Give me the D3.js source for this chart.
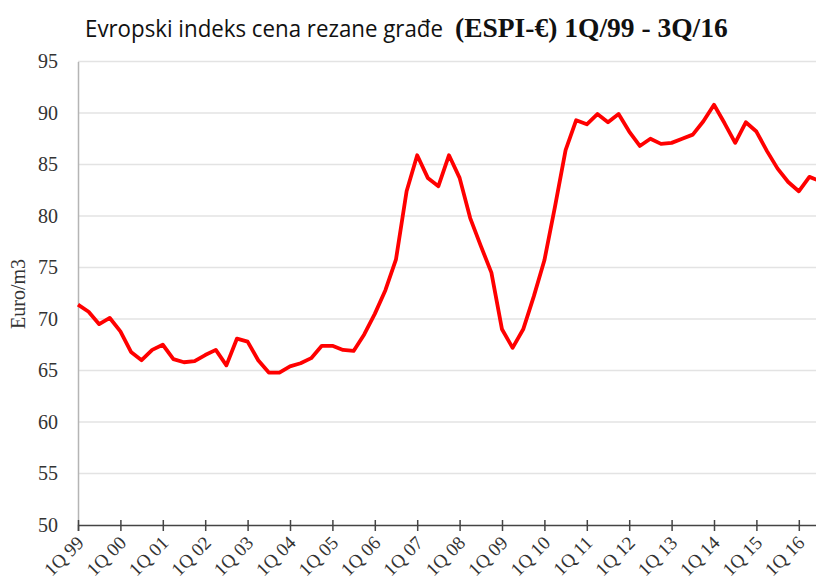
<!DOCTYPE html>
<html>
<head>
<meta charset="utf-8">
<script src="https://d3js.org/d3.v7.min.js"></script>
<style>
  body { margin: 0; background: #fff; }
  svg { display: block; }
</style>
</head>
<body>
<script>
// quarters 1Q99 .. 3Q16
var quarters = [];
var years = ["99","00","01","02","03","04","05","06","07","08","09","10","11","12","13","14","15","16"];
years.forEach(function(y) { ["1","2","3","4"].forEach(function(q) { quarters.push(q + "Q" + y); }); });
quarters = quarters.slice(0, 71);

// ESPI values, euro/m3
var espi = [71.4, 70.7, 69.5, 70.1, 68.8, 66.8, 66.0, 67.0, 67.5, 66.1,
            65.8, 65.9, 66.5, 67.0, 65.5, 68.1, 67.8, 66.0, 64.8, 64.8,
            65.4, 65.7, 66.2, 67.4, 67.4, 67.0, 66.9, 68.5, 70.5, 72.8,
            75.8, 82.4, 85.9, 83.7, 82.9, 85.9, 83.7, 79.8, 77.1, 74.5,
            69.0, 67.2, 69.0, 72.2, 75.7, 80.9, 86.4, 89.3, 88.9, 89.9,
            89.1, 89.9, 88.2, 86.8, 87.5, 87.0, 87.1, 87.5, 87.9, 89.2,
            90.8, 89.0, 87.1, 89.1, 88.2, 86.3, 84.6, 83.3, 82.4, 83.8, 83.4];

// x tick labels (every first quarter)
var tickQuarters = years.map(function(y) { return "1Q" + y; });
var tickLabels = years.map(function(y) { return "1Q " + y; });
var yTicks = [50, 55, 60, 65, 70, 75, 80, 85, 90, 95];

var serif = "'Liberation Serif', 'Times New Roman', serif";

var W = 816, H = 576;
var svg = d3.select("body").append("svg")
    .attr("width", W)
    .attr("height", H);

var x = d3.scalePoint()
    .domain(quarters)
    .range([78, 820]);

var y = d3.scaleLinear()
    .domain([50, 95])
    .range([525, 61.5]);

// gridlines
svg.append("g")
    .selectAll("line")
    .data(yTicks.slice(1))
    .join("line")
    .attr("x1", 78)
    .attr("x2", W)
    .attr("y1", function(d) { return y(d); })
    .attr("y2", function(d) { return y(d); })
    .attr("stroke", "#e3e3e3")
    .attr("stroke-width", 1.5);

// left axis
var yAxis = svg.append("g")
    .attr("transform", "translate(78,0)")
    .call(d3.axisLeft(y).tickValues(yTicks).tickSize(0).tickPadding(20));
yAxis.select(".domain").attr("stroke", "#b5b5b5").attr("stroke-width", 1.5);
yAxis.selectAll("text")
    .style("font-family", serif)
    .style("font-size", "20px")
    .attr("fill", "#333");

// bottom axis (labels drawn separately, rotated)
var xAxis = svg.append("g")
    .attr("transform", "translate(0,525)")
    .call(d3.axisBottom(x)
        .tickValues(tickQuarters)
        .tickFormat("")
        .tickSizeOuter(0)
        .tickSize(6));
xAxis.select(".domain").attr("stroke", "#444").attr("stroke-width", 1.5);
xAxis.selectAll(".tick line")
    .attr("y1", -5)
    .attr("stroke", "#444")
    .attr("stroke-width", 1.5);

svg.append("g")
    .selectAll("g")
    .data(tickQuarters)
    .join("g")
    .attr("transform", function(d) { return "translate(" + (x(d) + 7) + ",544) rotate(-45)"; })
    .append("text")
    .attr("text-anchor", "end")
    .style("font-family", serif)
    .style("font-size", "19px")
    .attr("fill", "#333")
    .text(function(d, i) { return tickLabels[i]; });

// the line
var valueline = d3.line()
    .x(function(d, i) { return x(quarters[i]); })
    .y(function(d) { return y(d); });
svg.append("path")
    .datum(espi)
    .attr("fill", "none")
    .attr("stroke", "#ff0000")
    .attr("stroke-width", 3.8)
    .attr("stroke-linejoin", "round")
    .attr("d", valueline);

// y axis title
svg.append("text")
    .attr("transform", "translate(25,294) rotate(-90)")
    .attr("text-anchor", "middle")
    .style("font-family", serif)
    .style("font-size", "20px")
    .attr("fill", "#333")
    .text("Euro/m3");

// title
svg.append("text")
    .attr("x", 85)
    .attr("y", 37)
    .attr("textLength", 358)
    .attr("lengthAdjust", "spacingAndGlyphs")
    .style("font-family", "'Open Sans', sans-serif")
    .style("font-size", "23px")
    .attr("fill", "#111")
    .text("Evropski indeks cena rezane građe");
svg.append("text")
    .attr("x", 455)
    .attr("y", 37)
    .style("font-family", serif)
    .style("font-weight", "bold")
    .style("font-size", "27.5px")
    .attr("fill", "#111")
    .text("(ESPI-€) 1Q/99 - 3Q/16");
</script>
</body>
</html>
